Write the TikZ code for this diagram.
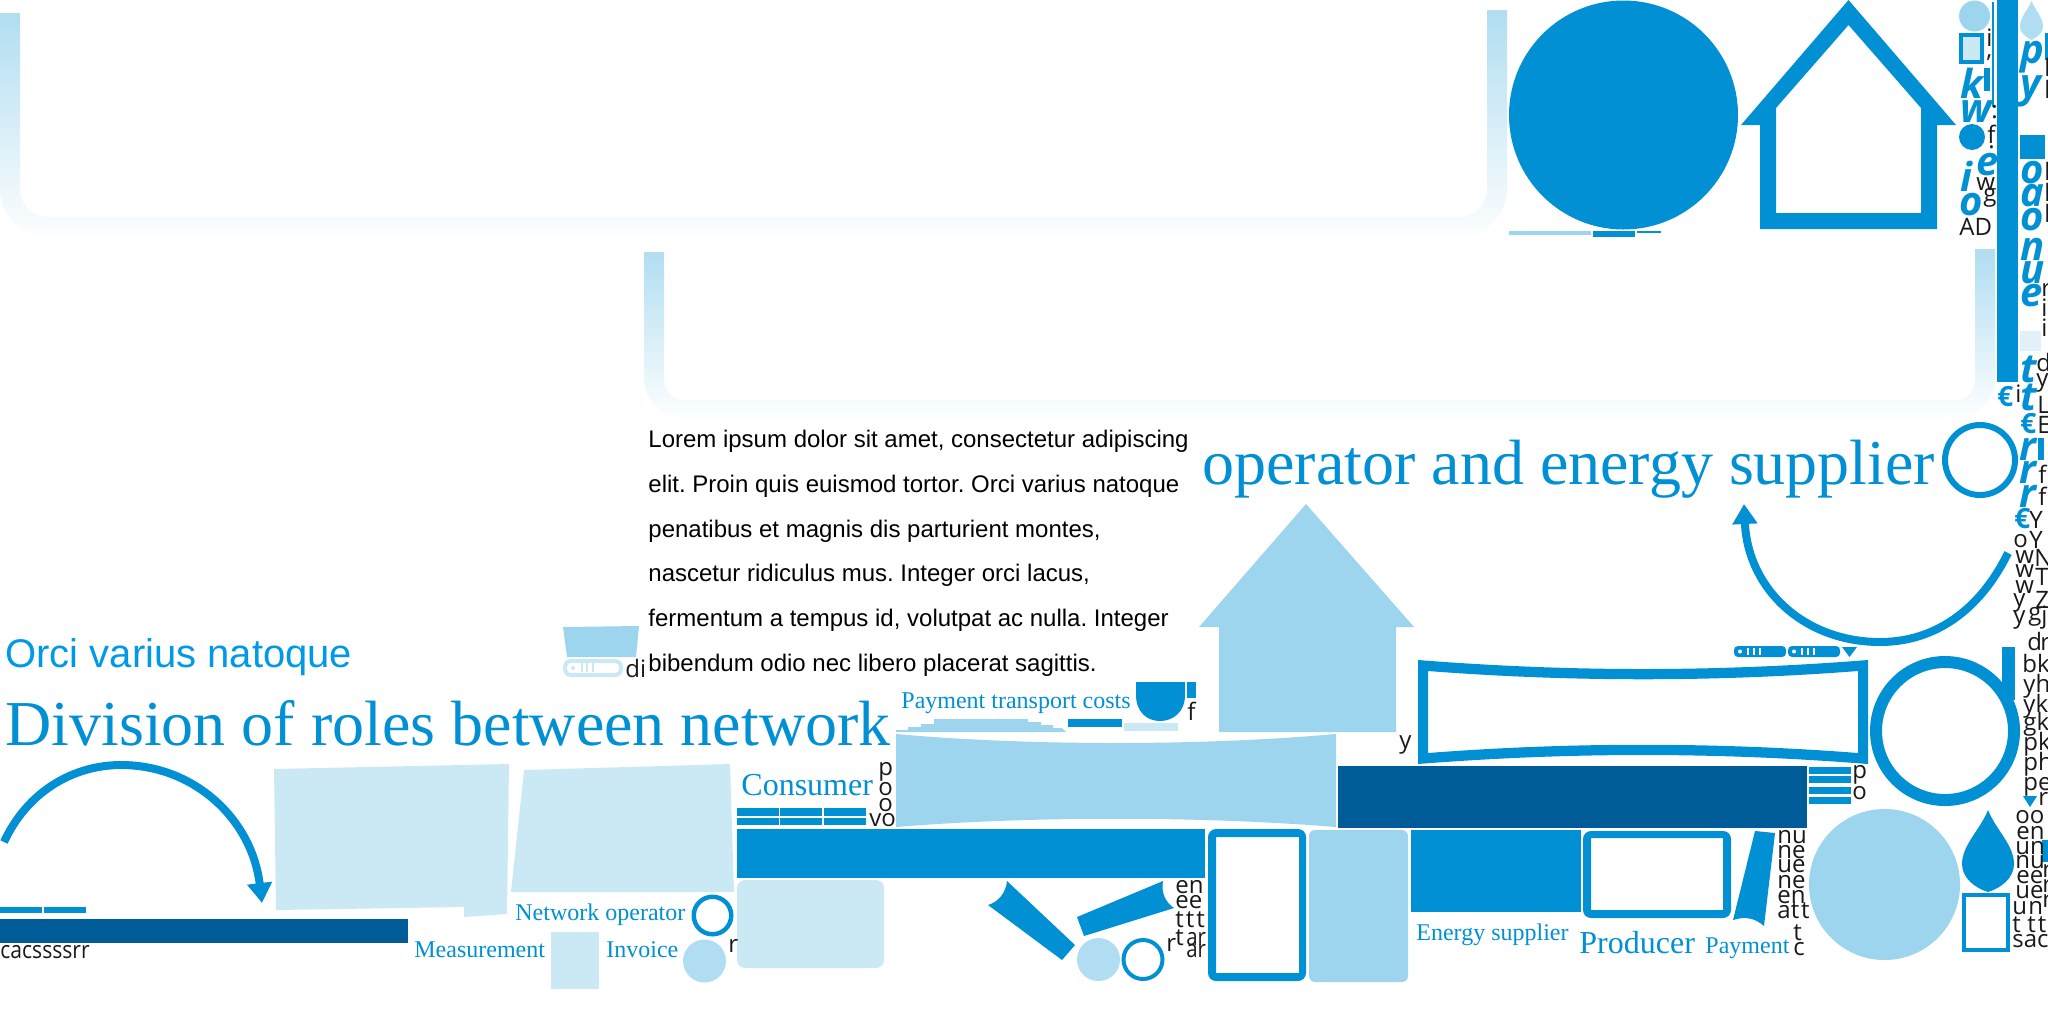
\documentclass[tikz,border=0pt]{standalone}
\usepackage{fontspec}
\usetikzlibrary{arrows.meta}
\setmainfont{Liberation Serif}
\setsansfont{Open Sans}
\newfontfamily\armfont{Liberation Sans}
\definecolor{mainblue}{HTML}{0090D3}
\definecolor{darkblue}{HTML}{005C99}
\definecolor{midblue}{HTML}{9DD5EF}
\definecolor{softblue}{HTML}{B0DDF1}
\definecolor{paleblue}{HTML}{CBE9F5}
\definecolor{faintblue}{HTML}{E0F1F9}
\definecolor{brightblue}{HTML}{0099E6}
\frenchspacing
\tikzset{
  lbl/.style={inner sep=0pt, anchor=base west},
  serifsmall/.style={lbl, text=mainblue, font=\rmfamily\fontsize{12}{14}\selectfont},
  serifmid/.style={lbl, text=mainblue, font=\rmfamily\fontsize{16}{18}\selectfont},
  seriflarge/.style={lbl, text=mainblue, font=\rmfamily\fontsize{32}{36}\selectfont},
  bodytext/.style={lbl, text=black, font=\armfont\fontsize{12}{14}\selectfont},
  blk/.style={lbl, text=black!90, font=\sffamily\fontsize{12}{14}\selectfont},
  ital/.style={lbl, text=mainblue, font=\sffamily\bfseries\itshape\fontsize{20}{22}\selectfont},
  euro/.style={lbl, text=mainblue, font=\sffamily\bfseries\fontsize{14}{16}\selectfont},
  gradpanel/.style={top color=softblue, bottom color=white!97!softblue},
  curvearrow/.style={mainblue, line width=4pt, -{Triangle[length=10pt,width=12pt]}}
}
\begin{document}
\begin{tikzpicture}[x=0.5pt,y=-0.5pt]
\useasboundingbox (0,0) rectangle (2048,1024);

\shade[gradpanel] (0,13) -- (20,13) [rounded corners=14pt] -- (20,217) -- (1487,217) [sharp corners] -- (1487,10) -- (1507,10) [rounded corners=24pt] -- (1507,237) -- (0,237) [sharp corners] -- cycle;
\shade[gradpanel] (644,252) -- (664,252) [rounded corners=10pt] -- (664,400) -- (1975,400) [sharp corners] -- (1975,249) -- (1995,249) [rounded corners=20pt] -- (1995,418) -- (644,418) [sharp corners] -- cycle;

\fill[mainblue] (1623.5,115) circle[radius=114.5];
\fill[midblue] (1509,231) rectangle (1591,235);
\fill[mainblue] (1593,231) rectangle (1635,237);
\fill[mainblue] (1637,231) rectangle (1661,233);
\fill[mainblue, even odd rule] (1848.5,0) -- (1956,125) -- (1937,125) -- (1937,229) -- (1760,229) -- (1760,125) -- (1741,125) -- cycle
  (1848.5,25) -- (1921,108) -- (1921,213) -- (1776,213) -- (1776,108) -- cycle;

\fill[midblue] (1974.5,16) circle[radius=15.5];
\fill[paleblue, draw=mainblue, line width=2pt] (1961,35) rectangle (1982,62);
\fill[mainblue] (1972,137) circle[radius=13];
\fill[softblue] (2031.5,1) .. controls (2028,10) and (2020,17) .. (2020,27) .. controls (2020,33) and (2026,37) .. (2031.5,40) .. controls (2037,37) and (2043,33) .. (2043,27) .. controls (2043,17) and (2035,10) .. (2031.5,1) -- cycle;
\fill[faintblue] (2020,331) rectangle (2041,351);
\foreach \a/\b/\c/\d in {1997/0/2018/382, 1992/2/1994/107, 1984/68/1990/91, 2045/33/2048/60, 2020/135/2045/159, 2038/438/2044/460, 2002/647/2015/700, 2042/840/2048/862}
  \fill[mainblue] (\a,\b) rectangle (\c,\d);
\fill[mainblue] (2023,796) -- (2037,796) -- (2030,807) -- cycle;

\fill[mainblue, even odd rule] (1980,460) circle[radius=38] (1980,460) circle[radius=32];
\fill[mainblue, even odd rule] (1945,731) circle[radius=75] (1945,731) circle[radius=63];
\fill[midblue] (1884.5,884.5) circle[radius=75.5];
\fill[mainblue] (1988,810) .. controls (1980,830) and (1962,845) .. (1962,864) .. controls (1962,878) and (1975,888) .. (1988,892) .. controls (2001,888) and (2014,878) .. (2014,864) .. controls (2014,845) and (1996,830) .. (1988,810) -- cycle;
\draw[mainblue, line width=2pt] (1964,895) rectangle (2008,950);

\coordinate (rarcstart) at (2008,553);
\coordinate (rarcmid) at (1880,642);
\coordinate (rarctip) at (1744,504);
\draw[curvearrow] (rarcstart) .. controls (1980,610) and (1935,642) .. (rarcmid) .. controls (1805,642) and (1748,590) .. (rarctip);
\coordinate (larcstart) at (4,842);
\coordinate (larcmid) at (121,765);
\coordinate (larctip) at (262,903);
\draw[curvearrow] (larcstart) .. controls (28,790) and (75,765) .. (larcmid) .. controls (195,765) and (252,820) .. (larctip);

\foreach \x in {1734,1788} {
  \fill[mainblue, rounded corners=2pt] (\x,646) rectangle +(52,11);
  \fill[white] (\x+6,651.5) circle[radius=2];
  \foreach \t in {13,19,25}
    \fill[white] (\x+\t,648) rectangle +(1.5,7);
}
\fill[mainblue] (1842,647) -- (1857,647) -- (1849.5,657) -- cycle;

\fill[midblue] (1306,504) -- (1414,627) -- (1396,627) -- (1396,732) -- (1219,732) -- (1219,627) -- (1199,627) -- cycle;
\fill[mainblue, even odd rule] (1418,660) .. controls (1570,672) and (1716,672) .. (1868,660) -- (1868,764) .. controls (1716,752) and (1570,752) .. (1418,764) -- cycle
  (1428,671) .. controls (1570,682) and (1716,682) .. (1858,671) -- (1858,753) .. controls (1716,742) and (1570,742) .. (1428,753) -- cycle;
\fill[darkblue] (1338,766) rectangle (1807,828);
\foreach \y in {767,776,787,797}
  \fill[mainblue] (1809,\y) rectangle (1851,\y+7);
\fill[midblue, rounded corners=3pt] (1309,830) rectangle (1408,982);
\fill[mainblue] (1411,830) rectangle (1581,912);
\fill[mainblue, even odd rule, rounded corners=4pt] (1583,831) rectangle (1731,918) [sharp corners] (1591,838) rectangle (1723,910);
\fill[mainblue] (1755,831) -- (1775,833) -- (1764,926) .. controls (1755,918) and (1745,916) .. (1733,920) -- cycle;

\fill[midblue] (896,734) .. controls (1030,746) and (1200,746) .. (1336,734) -- (1336,827) .. controls (1200,816) and (1030,816) .. (896,827) -- cycle;
\fill[midblue] (896,732) -- (896,730) -- (908,730) -- (908,727) -- (921,727) -- (921,724) -- (934,724) -- (934,719) -- (1028,719) -- (1028,722) -- (1041,722) -- (1041,725) -- (1053,725) -- (1053,728) -- (1062,728) -- (1066,732) -- cycle;
\fill[mainblue] (1068,719) rectangle (1122,727);
\fill[paleblue] (1124,723) rectangle (1178,731);
\fill[mainblue] (1136,682) -- (1185,682) -- (1185,695) .. controls (1185,712) and (1173,721) .. (1160,721) .. controls (1147,721) and (1136,712) .. (1136,695) -- cycle;
\fill[mainblue] (1187,682) rectangle (1196,698);
\foreach \x in {737,780,824} {
  \fill[mainblue] (\x,808) rectangle +(42,8);
  \fill[mainblue] (\x,818) rectangle +(42,7);
}
\fill[mainblue] (737,829) rectangle (1205,878);
\fill[paleblue, rounded corners=4pt] (737,880) rectangle (884,968);
\fill[mainblue, even odd rule, rounded corners=4pt] (1208,829) rectangle (1306,981) [sharp corners] (1216,837) rectangle (1299,973);
\fill[mainblue] (1007,881) -- (1075,945) -- (1062,960) -- (988,905) .. controls (998,902) and (1006,893) .. (1007,881) -- cycle;
\fill[mainblue] (1163,881) .. controls (1161,892) and (1165,902) .. (1174,908) -- (1084,936) -- (1077,917) -- cycle;
\fill[softblue] (1098.5,959.5) circle[radius=21.5];
\fill[mainblue, even odd rule] (1143,959.5) circle[radius=21.5] (1143,959.5) circle[radius=17.5];

\fill[paleblue] (274,769) -- (509,764) -- (507,914) -- (464,917) -- (464,907) -- (276,910) -- cycle;
\fill[paleblue] (524,770) -- (730,764) -- (734,892) -- (511,892) -- cycle;
\foreach \x in {0,44}
  \fill[mainblue] (\x,907) rectangle +(42,6);
\fill[darkblue] (0,919) rectangle (408,943);
\fill[mainblue, even odd rule] (712.5,915.5) circle[radius=21] (712.5,915.5) circle[radius=16.5];
\fill[paleblue] (551,932) rectangle (599,989);
\fill[softblue] (704.5,961) circle[radius=21.5];

\fill[midblue] (563,627) -- (639,626) -- (636,657) -- (567,657) -- cycle;
\draw[paleblue, line width=2pt, fill=white, rounded corners=3pt] (565,661) rectangle (621,675);
\fill[paleblue] (573,668) circle[radius=2];
\foreach \x in {581,586,592}
  \fill[paleblue] (\x,663) rectangle +(1.5,9);

\node[lbl, text=brightblue, font=\armfont\fontsize{20}{24}\selectfont] (orcititle) at (5,667) {Orci varius natoque};
\node[seriflarge] (divisiontitle) at (5,745) {Division of roles between network};
\node[seriflarge] (operatortitle) at (1202,484) {operator and energy supplier};
\foreach \t/\y [count=\i] in {{Lorem ipsum dolor sit amet, consectetur adipiscing}/447, {elit. Proin quis euismod tortor. Orci varius natoque}/492, {penatibus et magnis dis parturient montes,}/537, {nascetur ridiculus mus. Integer orci lacus,}/581, {fermentum a tempus id, volutpat ac nulla. Integer}/626, {bibendum odio nec libero placerat sagittis.}/671}
  \node[bodytext] (para\i) at (648,\y) {\t};
\node[serifsmall] (paytransport) at (901,708) {Payment transport costs};
\node[serifmid] (consumer) at (741,795) {Consumer};
\node[serifsmall] (netoperator) at (515,920) {Network operator};
\node[serifsmall] (measurement) at (414,957) {Measurement};
\node[serifsmall] (invoice) at (606,957) {Invoice};
\node[serifsmall] (enersupplier) at (1416,940) {Energy supplier};
\node[serifmid] (producer) at (1579,953) {Producer};
\node[serifsmall] (payment) at (1705,953) {Payment};

\foreach \x/\y/\t [count=\i] in {1960/98/k, 1960/122/w, 1976/175/e, 1960/191/i, 1959/215/o, 2020/63/p, 2020/97/y, 2020/183/o, 2020/206/a, 2020/230/o, 2020/260/n, 2020/283/u, 2020/306/e, 2020/382/t, 2020/410/t, 2019/460/r, 2019/483/r, 2019/507/r}
  \node[ital] (ital\i) at (\x,\y) {\t};
\foreach \x/\y [count=\i] in {1997/406, 2020/433, 2014/528}
  \node[euro] (euro\i) at (\x,\y) {€};
\foreach \x/\y/\t [count=\i] in {1986/46/i, 1986/57/{,}, 1991/118/:, 1987/143/f, 1988/148/., 1976/190/w, 1983/201/g, 1959/235/AD, 2044/76/l, 2044/98/l, 2044/180/l, 2044/201/l, 2044/222/{l,}, 2041/296/r, 2041/316/i, 2041/336/i, 2036/371/d, 2036/386/y, 2037/413/L, 2037/433/E, 2038/483/f, 2038/505/f, 2015/402/i, 2029/528/Y, 2013/547/o, 2029/548/Y, 2015/563/w, 2034/566/N, 2015/577/w, 2035/585/T, 2015/593/w, 2013/606/y, 2035/608/Z, 2013/623/y, 2028/620/g, 2041/623/j, 2027/650/d, 2040/650/r, 2022/672/bk, 2023/692/yh, 2023/712/yk, 2023/730/gk, 2023/750/pk, 2023/770/ph, 2023/790/pe, 2038/805/r, 2015/823/oo, 2016/839/en, 2015/854/un, 2015/868/nu, 2016/883/ee, 2015/898/ue, 2012/914/u, 2028/914/n, 2012/932/t, 2027/932/t\kern1pt t, 2012/947/sac, 2042/877/r, 2042/892/r, 2042/907/r, 1777/843/nu, 1777/858/ne, 1777/872/ue, 1777/888/ne, 1777/903/en, 1777/918/at\kern1pt t, 1793/940/t, 1793/955/c, 1852/778/p, 1852/799/o, 1399/748/y, 1175/893/en, 1175/908/ee, 1175/927/t\kern1pt t\kern1pt t, 1175/945/t, 1166/951/r, 728/952/r, 878/775/p, 878/795/o, 878/811/o, 869/826/vo, 1187/720/f, 625/677/di}
  \node[blk] (blk\i) at (\x,\y) {\t};
\node[blk, xscale=0.85] (arupper) at (1186,945) {ar};
\node[blk, xscale=0.85] (arlower) at (1186,957) {ar};
\node[blk, xscale=0.88] (cacword) at (0,958) {cacssssrr};
\end{tikzpicture}
\end{document}
